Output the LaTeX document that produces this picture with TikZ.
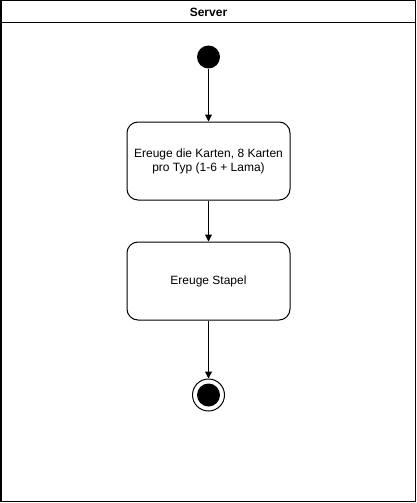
\documentclass[tikz,border=0pt]{standalone}
\usepackage{fontspec}
\setmainfont{Liberation Sans}
\usetikzlibrary{arrows.meta}
\begin{document}
\begin{tikzpicture}[x=1pt,y=-1pt,
  every node/.style={font=\fontsize{12}{14}\selectfont},
  statebox/.style={draw,line width=1pt,rounded corners=11pt,minimum width=163pt,minimum height=78pt,align=center,inner sep=0pt},
  flow/.style={draw,line width=1pt,-{Triangle[length=7pt,width=7pt]}},
  startdot/.style={circle,fill=black,minimum size=23pt,inner sep=0pt},
  enddot/.style={circle,draw,line width=1pt,minimum size=32pt,inner sep=0pt}]
\useasboundingbox (0,0) rectangle (417,503);
\draw[line width=1.2pt] (1,0.6) rectangle (415.5,501.5);
\draw[line width=1pt] (1,23) -- (415.5,23);
\node[font=\fontsize{12}{14}\selectfont\bfseries] (title) at (208.5,12) {Server};
\node[startdot] (start) at (208.5,57) {};
\node[statebox] (b1) at (208.5,161) {Ereuge die Karten, 8 Karten\\pro Typ (1-6 + Lama)};
\node[statebox] (b2) at (208.5,281) {Ereuge Stapel};
\node[enddot] (end) at (208.5,395) {};
\node[circle,fill=black,minimum size=23pt,inner sep=0pt] (endin) at (end.center) {};
\draw[flow] (start) -- (b1);
\draw[flow] (b1) -- (b2);
\draw[flow] (b2) -- (end);
\end{tikzpicture}
\end{document}
